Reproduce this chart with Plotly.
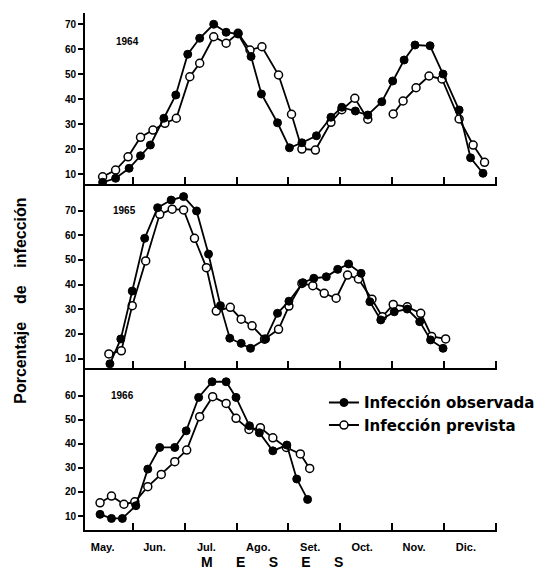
import plotly.graph_objects as go
from plotly.subplots import make_subplots

# Month labels; x positions are in months counted from 1 May (0 = 1 May, 1 = 1 Jun, ...)
MESES = ["May.", "Jun.", "Jul.", "Ago.", "Set.", "Oct.", "Nov.", "Dic."]
LIMITES_MES = [1, 2, 3, 4, 5, 6, 7, 8]

# 1964
x64_obs = [0.42, 0.67, 0.93, 1.15, 1.34, 1.60, 1.83, 2.06, 2.29, 2.56, 2.80, 3.03, 3.28, 3.48,
           3.79, 4.02, 4.26, 4.54, 4.82, 5.03, 5.29, 5.53, 5.80, 6.01, 6.23, 6.44, 6.73, 6.98,
           7.29, 7.51, 7.75]
y64_obs = [6.7, 8.3, 12.3, 17.3, 21.6, 32.3, 41.6, 57.9, 64.3, 69.9, 66.7, 66.0, 57.0, 42.0,
           30.5, 20.5, 22.5, 25.3, 32.7, 36.7, 35.2, 33.6, 38.9, 47.2, 55.6, 61.6, 61.3, 50.0,
           35.6, 16.5, 10.3]
x64_prev = [0.42, 0.67, 0.91, 1.15, 1.39, 1.62, 1.84, 2.10, 2.29, 2.56, 2.80, 3.03, 3.26, 3.49,
            3.81, 4.06, 4.26, 4.52, 4.82, 5.03, 5.28, 5.53, None, 6.02, 6.21, 6.46, 6.71, 6.96,
            7.29, 7.56, 7.78]
y64_prev = [8.9, 11.6, 16.9, 24.7, 27.6, 30.3, 32.3, 48.9, 54.3, 64.9, 62.3, 66.3, 59.6, 60.9,
            49.6, 33.9, 20.0, 19.6, 30.7, 35.7, 40.3, 31.9, None, 34.0, 39.2, 44.5, 49.2, 48.0,
            32.0, 21.6, 14.7]

# 1965
x65_obs = [0.56, 0.77, 0.99, 1.23, 1.48, 1.74, 1.98, 2.23, 2.46, 2.69, 2.87, 3.09, 3.27, 3.56,
           3.79, 4.01, 4.28, 4.49, 4.73, 4.95, 5.16, 5.40, 5.57, 5.78, 6.04, 6.29, 6.53, 6.74,
           6.98]
y65_obs = [7.9, 18.0, 37.4, 58.8, 71.2, 74.3, 75.7, 69.9, 52.4, 31.5, 18.3, 16.2, 14.2, 18.0,
           28.4, 33.3, 40.8, 42.6, 43.2, 46.2, 48.4, 44.6, 33.1, 25.7, 29.0, 30.1, 25.0, 17.6,
           14.2]
x65_prev = [0.54, 0.78, 0.99, 1.25, 1.52, 1.76, 1.98, 2.19, 2.42, 2.61, 2.88, 3.09, 3.30, 3.54,
            3.81, 4.01, 4.26, 4.47, 4.69, 4.92, 5.14, 5.35, 5.61, 5.81, 6.02, 6.29, 6.55, 6.76,
            7.03]
y65_prev = [11.9, 13.2, 31.5, 49.6, 68.5, 70.6, 70.3, 58.8, 46.9, 29.3, 30.8, 26.0, 23.3, 17.9,
            21.9, 31.3, 40.5, 39.6, 36.5, 34.5, 43.9, 42.3, 34.1, 27.0, 32.0, 31.0, 28.4, 19.0,
            18.0]

# 1966
x66_obs = [0.37, 0.59, 0.80, 1.06, 1.29, 1.52, 1.81, 2.03, 2.27, 2.53, 2.80, 2.99, 3.25, 3.44,
           3.70, 3.97, 4.16, 4.37]
y66_obs = [10.7, 9.0, 9.0, 14.3, 29.5, 38.5, 38.5, 45.4, 59.3, 65.8, 65.8, 59.3, 47.5, 44.6,
           37.1, 39.5, 25.4, 16.9]
x66_prev = [0.37, 0.59, 0.83, 1.04, 1.29, 1.55, 1.81, 2.04, 2.29, 2.54, 2.80, 2.99, 3.24, 3.46,
            3.70, 3.96, 4.23, 4.41]
y66_prev = [15.5, 18.3, 14.9, 15.9, 22.2, 27.3, 32.6, 37.4, 51.3, 59.6, 56.8, 50.6, 46.0, 46.7,
            42.5, 38.5, 35.8, 29.8]

paneles = [
    ("1964", x64_obs, y64_obs, x64_prev, y64_prev, [6.0, 74.4], list(range(10, 71, 10)), (0.90, 63.0)),
    ("1965", x65_obs, y65_obs, x65_prev, y65_prev, [6.1, 80.8], list(range(10, 71, 10)), (0.85, 70.0)),
    ("1966", x66_obs, y66_obs, x66_prev, y66_prev, [4.2, 71.4], list(range(10, 61, 10)), (0.81, 60.0)),
]
dominios = [[0.6692, 1.0], [0.3128, 0.6692], [0.0, 0.3128]]

FONT = "Liberation Sans"
fig = make_subplots(rows=3, cols=1)

for i, (anio, xo, yo, xp, yp, rango, ticks_y, pos_anio) in enumerate(paneles):
    fila = i + 1
    fig.add_trace(go.Scatter(
        x=xp, y=yp, mode="lines+markers", name="Infección prevista",
        line=dict(color="black", width=1.8),
        marker=dict(symbol="circle", size=8, color="white", line=dict(color="black", width=1.5)),
        showlegend=(fila == 3), legendrank=2, connectgaps=False,
    ), row=fila, col=1)
    fig.add_trace(go.Scatter(
        x=xo, y=yo, mode="lines+markers", name="Infección observada",
        line=dict(color="black", width=1.8),
        marker=dict(symbol="circle", size=8, color="black", line=dict(color="black", width=1)),
        showlegend=(fila == 3), legendrank=1,
    ), row=fila, col=1)

    ultimo = fila == 3
    fig.update_xaxes(
        range=[0.08, 8.02], domain=[0, 1],
        showline=True, linecolor="black", linewidth=2, showgrid=False, zeroline=False,
        tickmode="array",
        tickvals=[m + 0.42 for m in range(len(MESES))],
        ticktext=MESES if ultimo else [""] * len(MESES),
        ticks="", ticklen=0,
        ticklabelstandoff=6,
        tickfont=dict(family=FONT, size=11, color="black", weight="bold"),
        minor=dict(tickmode="array", tickvals=LIMITES_MES, ticks="inside",
                   ticklen=7, tickwidth=1.5, tickcolor="black", showgrid=False),
        row=fila, col=1,
    )
    fig.update_yaxes(
        range=rango, domain=dominios[i],
        showline=True, linecolor="black", linewidth=2, showgrid=False, zeroline=False,
        tickmode="array", tickvals=ticks_y,
        ticks="outside", ticklen=5, tickwidth=1.5, tickcolor="black",
        tickfont=dict(family=FONT, size=10, color="black", weight="bold"),
        row=fila, col=1,
    )
    sufijo = "" if fila == 1 else str(fila)
    fig.add_annotation(
        x=pos_anio[0], y=pos_anio[1], xref="x" + sufijo, yref="y" + sufijo,
        text=anio, showarrow=False,
        font=dict(family=FONT, size=10, color="black", weight="bold"),
    )

fig.add_annotation(
    x=-0.156, y=0.443, xref="paper", yref="paper", textangle=-90,
    yanchor="middle", xanchor="center",
    text="Porcentaje\u00a0\u00a0\u00a0\u00a0de\u00a0\u00a0\u00a0\u00a0infección",
    showarrow=False, font=dict(family=FONT, size=16, color="black", weight="bold"),
)
fig.add_annotation(
    x=0.455, y=-0.081, xref="paper", yref="paper",
    text="\u00a0\u00a0\u00a0\u00a0\u00a0\u00a0".join("MESES"),
    showarrow=False, font=dict(family=FONT, size=14, color="black", weight="bold"),
)

fig.update_layout(
    width=556, height=581,
    margin=dict(l=85, r=59, t=13, b=51),
    paper_bgcolor="white", plot_bgcolor="white",
    showlegend=True,
    legend=dict(
        x=0.58, y=0.278, xanchor="left", yanchor="top",
        bgcolor="rgba(0,0,0,0)", borderwidth=0, tracegroupgap=0,
        font=dict(family="DejaVu Sans", size=15, color="black", weight="bold"),
        itemwidth=30,
    ),
)

fig.write_html("out.html")
